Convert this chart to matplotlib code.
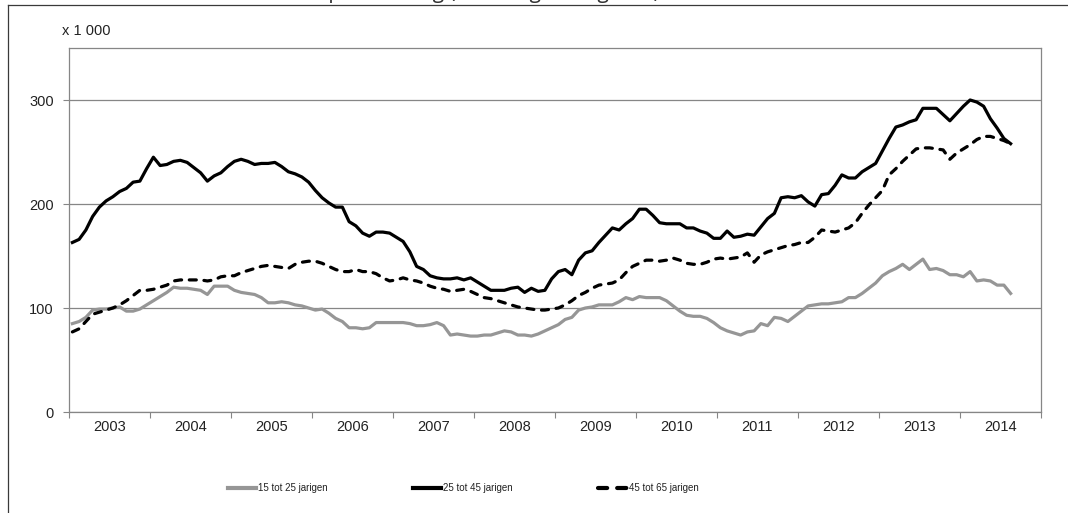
import numpy as np
import matplotlib.pyplot as plt
from matplotlib.lines import Line2D

# monthly values (x 1 000), Jan 2003 .. Aug 2014
jong = [85, 87, 91, 98, 99, 99, 100, 101, 97, 97, 99, 103,
        107, 111, 115, 120, 119, 119, 118, 117, 113, 121, 121, 121,
        117, 115, 114, 113, 110, 105, 105, 106, 105, 103, 102, 100,
        98, 99, 95, 90, 87, 81, 81, 80, 81, 86, 86, 86,
        86, 86, 85, 83, 83, 84, 86, 83, 74, 75, 74, 73,
        73, 74, 74, 76, 78, 77, 74, 74, 73, 75, 78, 81,
        84, 89, 91, 98, 100, 101, 103, 103, 103, 106, 110, 108,
        111, 110, 110, 110, 107, 102, 97, 93, 92, 92, 90, 86,
        81, 78, 76, 74, 77, 78, 85, 83, 91, 90, 87, 92,
        97, 102, 103, 104, 104, 105, 106, 110, 110, 114, 119, 124,
        131, 135, 138, 142, 137, 142, 147, 137, 138, 136, 132, 132,
        130, 135, 126, 127, 126, 122, 122, 114]

midden = [163, 166, 175, 188, 197, 203, 207, 212, 215, 221, 222, 234,
          245, 237, 238, 241, 242, 240, 235, 230, 222, 227, 230, 236,
          241, 243, 241, 238, 239, 239, 240, 236, 231, 229, 226, 221,
          213, 206, 201, 197, 197, 183, 179, 172, 169, 173, 173, 172,
          168, 164, 154, 140, 137, 131, 129, 128, 128, 129, 127, 129,
          125, 121, 117, 117, 117, 119, 120, 115, 119, 116, 117, 128,
          135, 137, 132, 146, 153, 155, 163, 170, 177, 175, 181, 186,
          195, 195, 189, 182, 181, 181, 181, 177, 177, 174, 172, 167,
          167, 174, 168, 169, 171, 170, 178, 186, 191, 206, 207, 206,
          208, 202, 198, 209, 210, 218, 228, 225, 225, 231, 235, 239,
          251, 263, 274, 276, 279, 281, 292, 292, 292, 286, 280, 287,
          294, 300, 298, 294, 282, 273, 263, 258]

oud = [77, 80, 87, 94, 96, 98, 100, 103, 107, 112, 117, 117,
       118, 120, 122, 126, 127, 127, 127, 127, 126, 127, 130, 131,
       131, 134, 136, 138, 140, 141, 140, 139, 138, 142, 144, 145,
       145, 143, 140, 137, 135, 135, 137, 135, 135, 133, 129, 126,
       127, 129, 127, 126, 124, 121, 119, 118, 116, 117, 118, 116,
       113, 110, 109, 107, 105, 103, 101, 100, 99, 98, 98, 99,
       100, 103, 107, 112, 115, 119, 122, 123, 124, 127, 134, 140,
       143, 146, 146, 145, 146, 148, 146, 143, 142, 142, 144, 147,
       148, 147, 148, 149, 153, 144, 151, 154, 156, 158, 160, 161,
       163, 163, 168, 175, 174, 173, 175, 177, 182, 191, 199, 206,
       213, 228, 234, 241, 247, 253, 254, 254, 253, 252, 243, 249,
       253, 257, 262, 265, 265, 263, 261, 258]

jaren = [str(j) for j in range(2003, 2015)]
labels = ['15 tot 25 jarigen', '25 tot 45 jarigen', '45 tot 65 jarigen']

plt.rcParams['font.family'] = ['Liberation Sans', 'DejaVu Sans']

fig = plt.figure(figsize=(10.68, 5.13), dpi=100)
ax = fig.add_axes([69 / 1068, 1 - 412 / 513, 972 / 1068, 364 / 513])

x = np.arange(len(midden)) + 0.5
grijs = '#969696'
rand = '#868686'

ax.plot(x, jong, color=grijs, lw=2.3, solid_joinstyle='round', label=labels[0])
ax.plot(x, midden, color='black', lw=2.3, solid_joinstyle='round', label=labels[1])
ax.plot(x, oud, color='black', lw=2.3, dashes=(2.2, 2.4),
        dash_capstyle='round', label=labels[2])

ax.set_xlim(0, 144)
ax.set_ylim(0, 350)
ax.set_yticks([0, 100, 200, 300])
ax.set_xticks(np.arange(0, 145, 12))
ax.set_xticklabels([])
ax.set_xticks(np.arange(6, 144, 12), minor=True)
ax.set_xticklabels(jaren, minor=True)
ax.tick_params(axis='x', which='major', length=4, color=rand, direction='out')
ax.tick_params(axis='x', which='minor', length=0, pad=6, labelsize=10.5, labelcolor='#222222')
ax.tick_params(axis='y', length=4, color=rand, pad=7, labelsize=10.5, labelcolor='#222222')

ax.grid(axis='y', color=rand, lw=0.9)
ax.set_axisbelow(True)
for s in ax.spines.values():
    s.set_color(rand)
    s.set_linewidth(0.9)

fig.text(62 / 1068, 1 - 31 / 513, 'x 1 000', fontsize=10.5, color='#222222', va='center')

# legend below the chart
leg = fig.legend(loc='center', bbox_to_anchor=(463 / 1068, 1 - 488 / 513), ncol=3,
                 frameon=False, fontsize=7, handlelength=2.9, handletextpad=0.2,
                 columnspacing=8.8)
for t in leg.get_texts():
    t.set_color('#222222')
for h in leg.legend_handles:
    h.set_linewidth(3)

# outer frame and clipped title at the top
fig.add_artist(Line2D([8 / 1068, 1], [1 - 5 / 513, 1 - 5 / 513], color='#3a3a3a', lw=0.9))
fig.add_artist(Line2D([8 / 1068, 8 / 1068], [0, 1 - 5 / 513], color='#3a3a3a', lw=0.9))
fig.text(660 / 1068, 1 + 2 / 513, 'Werkloze beroepsbevolking (seizoengecorrigeerd)',
         fontsize=15, family=['Open Sans', 'DejaVu Sans'], color='#333333',
         ha='right', va='baseline',
         bbox=dict(facecolor='white', edgecolor='none', pad=1))

fig.savefig('out.png', dpi=100)
